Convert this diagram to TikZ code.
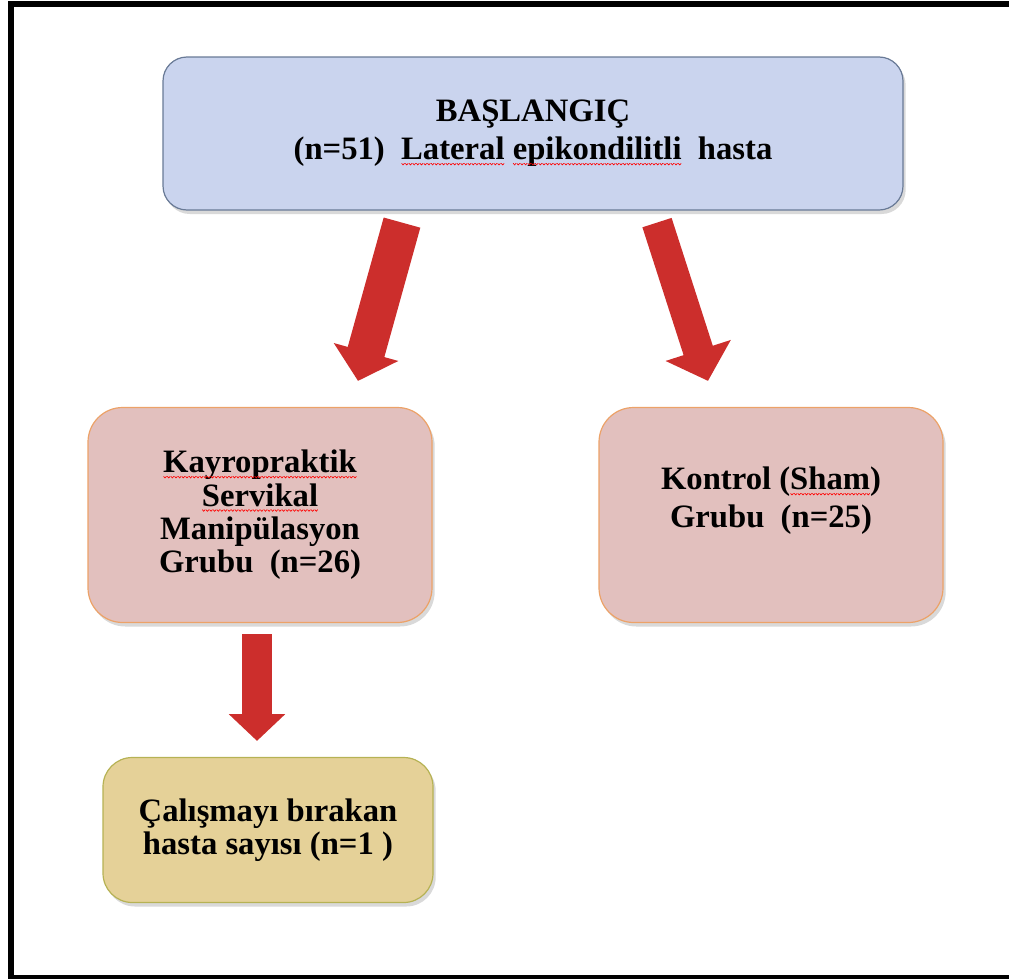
\documentclass[tikz,border=0pt]{standalone}
\usepackage{fontspec}
\setmainfont{Liberation Serif}
\usepackage{xcolor}
\usepackage{tikz}
\usetikzlibrary{positioning,calc,arrows.meta,shadows}

\definecolor{startfill}{RGB}{202,212,238}
\definecolor{startline}{RGB}{105,122,150}
\definecolor{groupfill}{RGB}{226,192,190}
\definecolor{groupline}{RGB}{236,162,104}
\definecolor{dropfill}{RGB}{229,209,152}
\definecolor{dropline}{RGB}{182,178,84}
\definecolor{arrowred}{RGB}{204,46,44}

% red wavy spell-check line under a word
\newsavebox\wordbox
\newcommand\wavebit{\begin{pgfpicture}\pgfsetbaseline{0pt}%
    \pgfsetcornersarced{\pgfpointorigin}%
    \pgfpathmoveto{\pgfpoint{0pt}{-2.6pt}}%
    \pgfpathlineto{\pgfpoint{1.1pt}{-3.8pt}}%
    \pgfpathlineto{\pgfpoint{2.2pt}{-2.6pt}}%
    \pgfsetlinewidth{0.5pt}\pgfsetstrokecolor{red}\pgfusepath{stroke}%
    \end{pgfpicture}}
\newcommand\spellwave[1]{\sbox\wordbox{#1}\rlap{\usebox\wordbox}%
    \xleaders\hbox{\wavebit}\hskip\wd\wordbox\hbox{}}

\begin{document}
\begin{tikzpicture}[x=0.75pt,y=-0.75pt,
    box/.style={draw, line width=0.9pt, rounded corners=#1, align=center,
        font=\bfseries\fontsize{24.5}{25}\selectfont,
        drop shadow={opacity=0.3, shadow xshift=2pt, shadow yshift=-3pt}},
    startbox/.style={box=18pt, fill=startfill, draw=startline,
        font=\bfseries\fontsize{24.5}{28.5}\selectfont,
        minimum width=555pt, minimum height=114.75pt},
    groupbox/.style={box=26pt, fill=groupfill, draw=groupline,
        minimum width=258pt, minimum height=161.25pt},
    dropbox/.style={box=22pt, fill=dropfill, draw=dropline,
        minimum width=247.5pt, minimum height=108.75pt},
    boxtext/.style={align=center, font=\bfseries\fontsize{24.5}{28.5}\selectfont},
    blockarrow/.style n args={3}{draw=arrowred, line width=#1,
        -{Triangle[width=#2,length=#3]}}]

    \useasboundingbox (0,0) rectangle (1009,978);
    \draw[line width=4.5pt] (11,4) rectangle (1030,978);

    \node[startbox] (start) at (533,133.5)
        {BAŞLANGIÇ\\(n=51)\ \ \spellwave{Lateral} \spellwave{epikondilitli}\ \ hasta};

    \node[groupbox] (kayro) at (260,515)
        {\spellwave{Kayropraktik}\\\spellwave{Servikal}\\Manipülasyon\\Grubu\ \ (n=26)};
    \node[groupbox] (kontrol) at (771,515) {};
    \node[boxtext] (kontroltext) at ([yshift=10.5pt]kontrol.center)
        {Kontrol (\spellwave{Sham})\\Grubu\ \ (n=25)};

    \node[dropbox] (birak) at (268,830)
        {Çalışmayı bırakan\\hasta sayısı (n=1 )};

    % arrows
    \draw[blockarrow={28.5pt}{49pt}{22.5pt}]
        ($(start.south)+(-131,12)$) -- ($(kayro.north)+(98,-26)$);
    \draw[blockarrow={23pt}{50pt}{24pt}]
        ($(start.south)+(124,12)$) -- ($(kontrol.north)+(-63,-26)$);
    \draw[blockarrow={22pt}{41pt}{20pt}]
        ($(kayro.south)+(-3,11)$) -- ($(birak.north)+(-11,-16)$);

\end{tikzpicture}
\end{document}
